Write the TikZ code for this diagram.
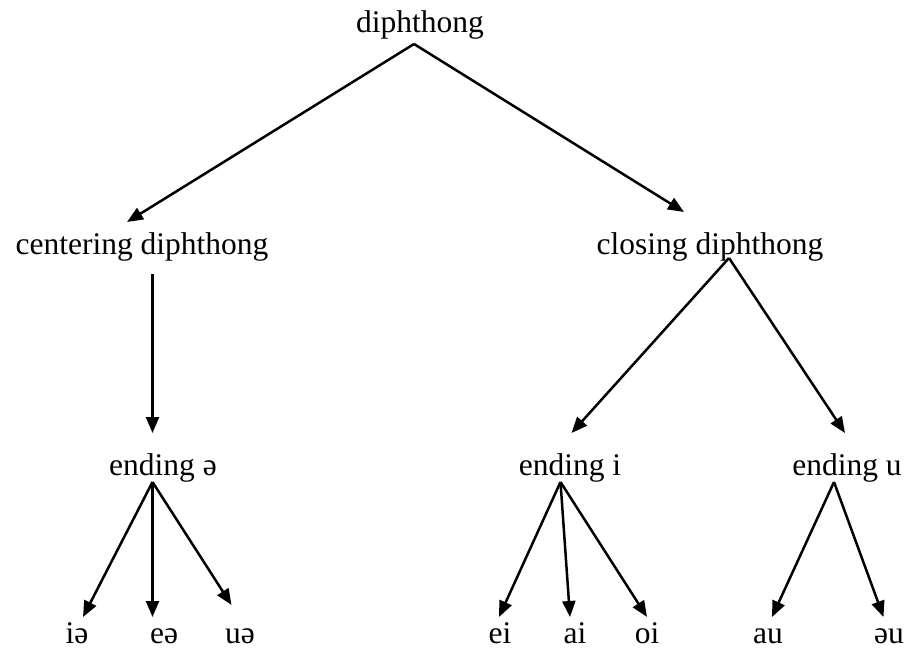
\documentclass[tikz,border=0pt]{standalone}
\usepackage{fontspec}
\setmainfont{Liberation Serif}
\usetikzlibrary{arrows.meta}
\begin{document}
\begin{tikzpicture}[x=1pt,y=-1pt,
  lbl/.style={inner sep=0pt,anchor=base,font=\fontsize{31.5}{36}\selectfont},
  leaf/.style={lbl,text depth=0pt},
  arr/.style={line width=2.5pt,-{Triangle[length=16pt,width=13pt]}}]
\useasboundingbox (0,0) rectangle (907,651);

% labels
\node[lbl] (top) at (420,32) {diphthong};
\node[lbl] (cen) at (142,254) {centering diphthong};
\node[lbl] (clo) at (710,254) {closing diphthong};
\node[lbl] (endschwa) at (163,475) {ending ə};
\node[lbl] (endi) at (570,475) {ending i};
\node[lbl] (endu) at (847,475) {ending u};
\node[leaf] (ia) at (77,643) {iə};
\node[leaf] (ea) at (164,643) {eə};
\node[leaf] (ua) at (240,643) {uə};
\node[leaf] (ei) at (500,643) {ei};
\node[leaf] (ai) at (575,643) {ai};
\node[leaf] (oi) at (647,643) {oi};
\node[leaf] (au) at (768,643) {au};
\node[leaf] (ou) at (889,643) {əu};

% connector end points
\coordinate (top-out) at (414,44);
\coordinate (cen-in) at (127,222);
\coordinate (clo-in) at (684,212);
\coordinate (cen-out) at (152.5,274);
\coordinate (clo-out) at (729,258);
\coordinate (endschwa-in) at (152.5,433);
\coordinate (endi-in) at (571.5,433);
\coordinate (endu-in) at (845,433);
\coordinate (endschwa-out) at (152.5,482);
\coordinate (endi-out) at (560.5,482);
\coordinate (endu-out) at (834,482);
\coordinate (ia-in) at (83,617);
\coordinate (ea-in) at (152.5,617);
\coordinate (ua-in) at (231.5,605);
\coordinate (ei-in) at (499,617);
\coordinate (ai-in) at (570,617);
\coordinate (oi-in) at (647,617);
\coordinate (au-in) at (772,617);
\coordinate (ou-in) at (883.5,617);

% connectors
\draw[arr] (top-out) -- (cen-in);
\draw[arr] (top-out) -- (clo-in);
\draw[arr] (cen-out) -- (endschwa-in);
\draw[arr] (clo-out) -- (endi-in);
\draw[arr] (clo-out) -- (endu-in);
\draw[arr] (endschwa-out) -- (ia-in);
\draw[arr] (endschwa-out) -- (ea-in);
\draw[arr] (endschwa-out) -- (ua-in);
\draw[arr] (endi-out) -- (ei-in);
\draw[arr] (endi-out) -- (ai-in);
\draw[arr] (endi-out) -- (oi-in);
\draw[arr] (endu-out) -- (au-in);
\draw[arr] (endu-out) -- (ou-in);
\end{tikzpicture}
\end{document}
